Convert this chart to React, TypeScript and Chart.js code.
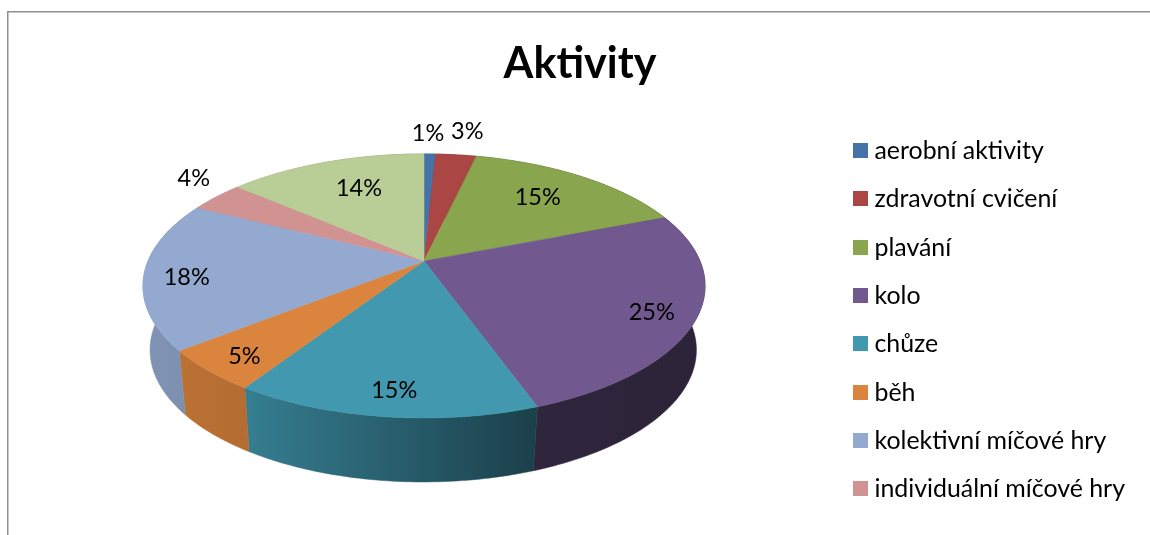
import React, { useEffect, useRef } from "react";
import { Chart, registerables } from "chart.js";

Chart.register(...registerables);

const categories = [
  "aerobní aktivity",
  "zdravotní cvičení",
  "plavání",
  "kolo",
  "chůze",
  "běh",
  "kolektivní míčové hry",
  "individuální míčové hry",
  "ostatní",
];
const shares = [0.8, 2.8, 15.47, 25.45, 14.68, 5.1, 18.2, 3.8, 13.7];
const sliceColors = ["#4573a7", "#aa4644", "#89a54e", "#71588f", "#4198af", "#db843d", "#93a9cf", "#d19392", "#b9cd96"];
const labelRadii = [1.25, 1.28, 0.72, 0.85, 0.855, 0.86, 0.85, 1.2, 0.7];
const labelNudgeX = [-3, 4, -4, -1, 3, 2, 0, 14, 7];
const labelNudgeY = [1, 1, -1, 3, 1, 3, 5, -7, 0];
const LEGEND_ROWS = 8;
const FONT = "Lato, 'Open Sans', sans-serif";

// perspective disc: centre, half axes, foreshortening, wall
const CX = 424, CY = 261, AX = 276, BY = 127.3, K = 0.189, DEPTH = 64, BOTTOM_SCALE = 0.972, BOTTOM_CX = 396;

const project = (theta: number, r = 1) => {
  const u = Math.sin(theta) * r, v = Math.cos(theta) * r;
  const w = 1 + K * v;
  return { x: CX + (AX * u) / w, y: CY - (BY * v) / w };
};
const projectBottom = (theta: number) => {
  const p = project(theta);
  return { x: BOTTOM_CX + (p.x - BOTTOM_CX) * BOTTOM_SCALE, y: p.y + DEPTH };
};
const shade = (hex: string, f: number) => {
  const n = parseInt(hex.slice(1), 16);
  return `rgb(${((n >> 16) & 255) * f},${((n >> 8) & 255) * f},${(n & 255) * f})`;
};
const arcSteps = (a: number, b: number) => Math.max(2, Math.ceil(((b - a) * 180) / Math.PI));

const perspectivePie = {
  id: "perspectivePie",
  beforeDraw(chart: any) {
    const { ctx } = chart;
    ctx.save();
    ctx.strokeStyle = "#8f8f8f";
    ctx.lineWidth = 1.5;
    ctx.beginPath();
    ctx.moveTo(7.75, 535);
    ctx.lineTo(7.75, 11.75);
    ctx.lineTo(1150, 11.75);
    ctx.stroke();
    ctx.restore();
  },
  beforeDatasetsDraw(chart: any) {
    const { ctx } = chart;
    const arcs = chart.getDatasetMeta(0).data;
    const total = shares.reduce((a, b) => a + b, 0);
    ctx.save();
    // walls
    arcs.forEach((arc: any, i: number) => {
      const a = arc.startAngle + Math.PI / 2, b = arc.endAngle + Math.PI / 2;
      const n = arcSteps(a, b);
      const g = ctx.createLinearGradient(CX - 281, 0, CX + 281, 0);
      const c = sliceColors[i];
      g.addColorStop(0, shade(c, 0.87));
      g.addColorStop(0.19, shade(c, 0.82));
      g.addColorStop(0.70, shade(c, 0.42));
      g.addColorStop(1, shade(c, 0.4));
      ctx.fillStyle = g;
      ctx.strokeStyle = g;
      ctx.lineWidth = 0.5;
      ctx.beginPath();
      for (let s = 0; s <= n; s++) {
        const p = project(a + ((b - a) * s) / n);
        s ? ctx.lineTo(p.x, p.y) : ctx.moveTo(p.x, p.y);
      }
      for (let s = n; s >= 0; s--) {
        const p = projectBottom(a + ((b - a) * s) / n);
        ctx.lineTo(p.x, p.y);
      }
      ctx.closePath();
      ctx.fill();
      ctx.stroke();
    });
    // top faces
    arcs.forEach((arc: any, i: number) => {
      const a = arc.startAngle + Math.PI / 2, b = arc.endAngle + Math.PI / 2;
      const n = arcSteps(a, b);
      ctx.fillStyle = sliceColors[i];
      ctx.strokeStyle = sliceColors[i];
      ctx.lineWidth = 0.5;
      ctx.beginPath();
      ctx.moveTo(CX, CY);
      for (let s = 0; s <= n; s++) {
        const p = project(a + ((b - a) * s) / n);
        ctx.lineTo(p.x, p.y);
      }
      ctx.closePath();
      ctx.fill();
      ctx.stroke();
    });
    // percentage labels
    ctx.fillStyle = "#000";
    ctx.font = `23.5px ${FONT}`;
    ctx.textAlign = "center";
    ctx.textBaseline = "middle";
    arcs.forEach((arc: any, i: number) => {
      const mid = (arc.startAngle + arc.endAngle) / 2 + Math.PI / 2;
      const p = project(mid, labelRadii[i]);
      ctx.fillText(`${Math.round((shares[i] / total) * 100)}%`, p.x + labelNudgeX[i], p.y + labelNudgeY[i]);
    });
    ctx.restore();
    return false;
  },
  afterDraw(chart: any) {
    // legend swatches sit closer to their text than the library's fixed gap allows
    const { ctx } = chart;
    ctx.save();
    chart.legend.legendHitBoxes.forEach((box: any, i: number) => {
      ctx.fillStyle = sliceColors[i];
      ctx.fillRect(Math.round(box.left), Math.round(box.top + box.height / 2 - 8), 15, 15);
    });
    ctx.restore();
  },
};

export default function App() {
  const ref = useRef<HTMLCanvasElement | null>(null);
  useEffect(() => {
    if (!ref.current) return;
    const chart = new Chart(ref.current, {
      type: "pie",
      data: {
        labels: categories,
        datasets: [{ data: shares, backgroundColor: sliceColors, borderWidth: 0 }],
      },
      options: {
        responsive: false,
        animation: false,
        layout: { padding: { left: 25, right: 15, top: 0, bottom: 10 } },
        plugins: {
          tooltip: { enabled: false },
          title: {
            display: true,
            text: "Aktivity",
            color: "#000",
            font: { family: FONT, size: 43, weight: "bold" },
            padding: { top: 38, bottom: 10 },
          },
          legend: {
            position: "right",
            align: "end",
            labels: {
              boxWidth: 9,
              boxHeight: 15,
              padding: 23.4,
              color: "#000",
              font: { family: FONT, size: 24.9 },
              filter: (item: any) => item.index < LEGEND_ROWS,
              generateLabels: (c: any) =>
                (Chart as any).overrides.pie.plugins.legend.labels
                  .generateLabels(c)
                  .map((l: any) => ({ ...l, fillStyle: "rgba(0,0,0,0)", strokeStyle: "rgba(0,0,0,0)" })),
            },
          },
        },
      },
      plugins: [perspectivePie],
    } as any);
    return () => chart.destroy();
  }, []);
  return (
    <div style={{ position: "absolute", left: 0, top: 0, width: 1150, height: 535, overflow: "hidden", background: "#fff" }}>
      <canvas ref={ref} width={1150} height={535} style={{ display: "block" }} />
    </div>
  );
}
